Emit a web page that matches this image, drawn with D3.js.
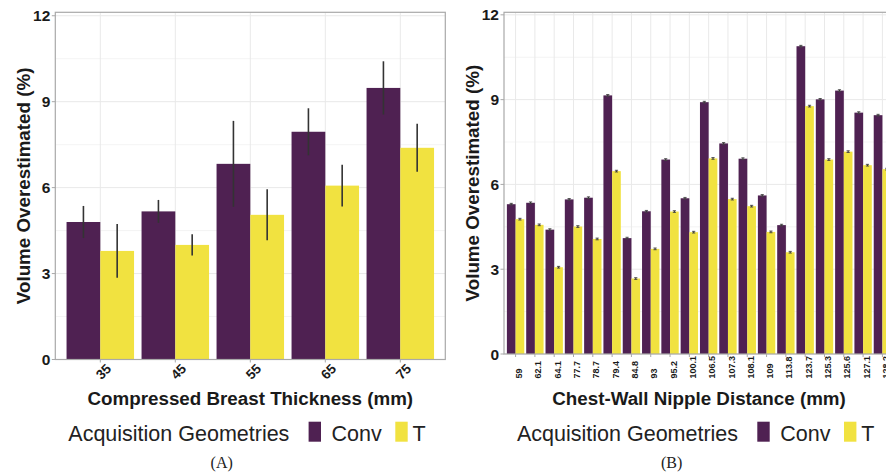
<!DOCTYPE html>
<html>
<head>
<meta charset="utf-8">
<script src="https://cdn.jsdelivr.net/npm/d3@7"></script>
<style>
  html, body { margin: 0; padding: 0; background: #fff; }
  svg { display: block; }
</style>
</head>
<body>
<div id="chart"></div>
<script>
// Volume overestimation by breast thickness (A) and chest-wall nipple distance (B)
const seriesNames = ["Conv", "T"];
const seriesColors = ["#4f2152", "#f1e240"];
const legendTitle = "Acquisition Geometries";
const yTicks = [0, 3, 6, 9, 12];
const yMinorTicks = [1.5, 4.5, 7.5, 10.5];

// Panel A: compressed breast thickness
const thicknessCats = ["35", "45", "55", "65", "75"];
const thicknessConv = [4.80, 5.17, 6.83, 7.95, 9.48];
const thicknessConvErr = [0.56, 0.40, 1.50, 0.82, 0.93];
const thicknessT = [3.79, 4.00, 5.05, 6.07, 7.39];
const thicknessTErr = [0.94, 0.37, 0.89, 0.73, 0.84];

// Panel B: chest-wall nipple distance
const cwndCats = ["59", "62.1", "64.1", "77.7", "78.7", "79.4", "84.8", "93", "95.2", "100.1",
                  "106.5", "107.3", "108.1", "109", "113.8", "123.7", "125.3", "125.6", "127.1", "128.2"];
const cwndConv = [5.30, 5.35, 4.40, 5.47, 5.53, 9.15, 4.10, 5.05, 6.88, 5.51,
                  8.91, 7.45, 6.91, 5.61, 4.56, 10.89, 9.01, 9.32, 8.54, 8.45];
const cwndConvErr = [0.03, 0.03, 0.03, 0.03, 0.03, 0.03, 0.03, 0.03, 0.03, 0.03,
                     0.03, 0.03, 0.03, 0.03, 0.03, 0.03, 0.03, 0.03, 0.03, 0.03];
const cwndT = [4.77, 4.57, 3.07, 4.51, 4.07, 6.47, 2.67, 3.72, 5.04, 4.31,
               6.92, 5.48, 5.23, 4.32, 3.60, 8.77, 6.88, 7.16, 6.68, 6.54];
const cwndTErr = [0.03, 0.03, 0.03, 0.03, 0.03, 0.03, 0.03, 0.03, 0.03, 0.03,
                  0.03, 0.03, 0.03, 0.03, 0.03, 0.03, 0.03, 0.03, 0.03, 0.03];

const W = 886, H = 472;
const FONT = "'Liberation Sans', Arial, Helvetica, sans-serif";

const svg = d3.select("#chart").append("svg")
  .attr("width", W).attr("height", H)
  .attr("viewBox", `0 0 ${W} ${H}`);

function drawPanel(opt) {
  const { x0, x1, yTop, yBot, yMax, cats, conv, convErr, tv, tErr,
          xTitle, caption, captionX, small } = opt;
  const g = svg.append("g");

  // ggplot-style discrete expansion: 0.6 of a step on each side
  const step = (x1 - x0) / (cats.length + 0.2);
  const x = d3.scalePoint().domain(cats).range([x0 + 0.6 * step, x1 - 0.6 * step]);
  const cx = (i) => x(cats[i]);
  const y = d3.scaleLinear().domain([0, yMax]).range([yBot, yTop]);
  const sub = d3.scaleBand().domain(seriesNames).range([-0.45 * step, 0.45 * step]);

  // grid
  g.append("g").selectAll("line").data(yMinorTicks).join("line")
    .attr("x1", x0).attr("x2", x1)
    .attr("y1", d => y(d)).attr("y2", d => y(d))
    .attr("stroke", "#f3f3f3").attr("stroke-width", 0.9);
  g.append("g").selectAll("line").data(yTicks).join("line")
    .attr("x1", x0).attr("x2", x1)
    .attr("y1", d => y(d)).attr("y2", d => y(d))
    .attr("stroke", "#e9e9e9").attr("stroke-width", 1);
  g.append("g").selectAll("line").data(cats).join("line")
    .attr("x1", (d, i) => cx(i)).attr("x2", (d, i) => cx(i))
    .attr("y1", yTop).attr("y2", yBot)
    .attr("stroke", "#e9e9e9").attr("stroke-width", 1);

  // bars
  const rows = cats.map((c, i) => ({ c, i, vals: [conv[i], tv[i]], errs: [convErr[i], tErr[i]] }));
  const grp = g.append("g").selectAll("g").data(rows).join("g");
  grp.selectAll("rect").data(d => seriesNames.map((s, k) => ({ s, k, i: d.i, v: d.vals[k], e: d.errs[k] })))
    .join("rect")
    .attr("x", d => cx(d.i) + sub(d.s))
    .attr("width", sub.bandwidth())
    .attr("y", d => y(d.v))
    .attr("height", d => yBot - y(d.v))
    .attr("fill", d => seriesColors[d.k]);

  // error bars
  const capW = small ? 1.6 : 0;
  grp.each(function (d) {
    const eg = d3.select(this);
    seriesNames.forEach((s, k) => {
      const mx = cx(d.i) + sub(s) + sub.bandwidth() / 2;
      const lo = y(d.vals[k] - d.errs[k]), hi = y(d.vals[k] + d.errs[k]);
      eg.append("line").attr("x1", mx).attr("x2", mx).attr("y1", lo).attr("y2", hi)
        .attr("stroke", "#333").attr("stroke-width", small ? 1.1 : 1.6);
      if (capW > 0) {
        [lo, hi].forEach(yy => eg.append("line")
          .attr("x1", mx - capW).attr("x2", mx + capW).attr("y1", yy).attr("y2", yy)
          .attr("stroke", "#444").attr("stroke-width", 0.9));
      }
    });
  });

  // panel border
  g.append("rect").attr("x", x0).attr("y", yTop)
    .attr("width", x1 - x0).attr("height", yBot - yTop)
    .attr("fill", "none").attr("stroke", "#a9a9a9").attr("stroke-width", 1.2);

  // y axis ticks and labels
  g.append("g").selectAll("line").data(yTicks).join("line")
    .attr("x1", x0 - 3.5).attr("x2", x0)
    .attr("y1", d => y(d)).attr("y2", d => y(d))
    .attr("stroke", "#a9a9a9").attr("stroke-width", 1);
  g.append("g").selectAll("text").data(yTicks).join("text")
    .attr("x", x0 - 5).attr("y", d => y(d))
    .attr("dy", "0.36em")
    .attr("text-anchor", "end")
    .attr("font-family", FONT).attr("font-weight", "bold")
    .attr("font-size", 15.5).attr("fill", "#1a1a1a")
    .text(d => d);

  // x axis ticks and labels
  g.append("g").selectAll("line").data(cats).join("line")
    .attr("x1", (d, i) => cx(i)).attr("x2", (d, i) => cx(i))
    .attr("y1", yBot).attr("y2", yBot + 3)
    .attr("stroke", "#a9a9a9").attr("stroke-width", 1);
  if (small) {
    g.append("g").selectAll("text").data(cats).join("text")
      .attr("transform", (d, i) => `translate(${cx(i) + 3.3},378.5) rotate(-90)`)
      .attr("text-anchor", "start")
      .attr("dy", "0.36em")
      .attr("font-family", FONT).attr("font-weight", "bold")
      .attr("font-size", 9).attr("fill", "#1a1a1a")
      .text(d => d);
  } else {
    g.append("g").selectAll("text").data(cats).join("text")
      .attr("transform", (d, i) => `translate(${cx(i) + 3},371.5) rotate(-45)`)
      .attr("text-anchor", "middle")
      .attr("dy", "0.36em")
      .attr("font-family", FONT).attr("font-weight", "bold")
      .attr("font-size", 13.5).attr("fill", "#1a1a1a")
      .text(d => d);
  }

  // axis titles
  const midX = (x0 + x1) / 2;
  g.append("text").attr("x", midX).attr("y", 405)
    .attr("text-anchor", "middle")
    .attr("font-family", FONT).attr("font-weight", "bold")
    .attr("font-size", 18.8).attr("fill", "#1a1a1a")
    .text(xTitle);
  g.append("text")
    .attr("transform", `translate(${x0 - 32},${(yTop + yBot) / 2}) rotate(-90)`)
    .attr("text-anchor", "middle").attr("dy", "0.36em")
    .attr("font-family", FONT).attr("font-weight", "bold")
    .attr("font-size", 18.8).attr("fill", "#1a1a1a")
    .text("Volume Overestimated (%)");

  // legend
  const lx = midX - 182;
  const lg = g.append("g");
  lg.append("text").attr("x", lx).attr("y", 440.7)
    .attr("font-family", FONT).attr("font-size", 21.5).attr("fill", "#222")
    .text(legendTitle);
  const keyX = [lx + 240.3, lx + 327];
  const labX = [lx + 263.3, lx + 344.3];
  seriesNames.forEach((s, k) => {
    lg.append("rect").attr("x", keyX[k]).attr("y", 421.7)
      .attr("width", 12.4).attr("height", 20)
      .attr("fill", seriesColors[k]);
    lg.append("text").attr("x", labX[k]).attr("y", 440.7)
      .attr("font-family", FONT).attr("font-size", 21.5).attr("fill", "#222")
      .text(s);
  });

  // panel caption
  g.append("text").attr("x", captionX).attr("y", 467.5)
    .attr("text-anchor", "middle")
    .attr("font-family", "'Liberation Serif', 'Times New Roman', serif")
    .attr("font-size", 16).attr("fill", "#222")
    .text(caption);
}

drawPanel({
  x0: 55.3, x1: 445.3, yTop: 12.3, yBot: 359.5, yMax: 12.12,
  cats: thicknessCats, conv: thicknessConv, convErr: thicknessConvErr,
  tv: thicknessT, tErr: thicknessTErr,
  xTitle: "Compressed Breast Thickness (mm)", caption: "(A)", captionX: 221.7, small: false
});

drawPanel({
  x0: 504, x1: 894, yTop: 12.3, yBot: 354, yMax: 12.09,
  cats: cwndCats, conv: cwndConv, convErr: cwndConvErr,
  tv: cwndT, tErr: cwndTErr,
  xTitle: "Chest-Wall Nipple Distance (mm)", caption: "(B)", captionX: 671.7, small: true
});
</script>
</body>
</html>
